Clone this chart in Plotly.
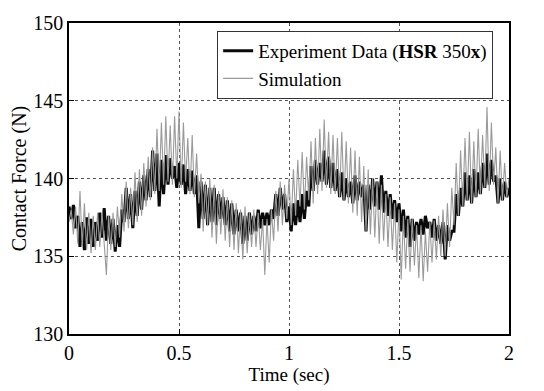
import plotly.graph_objects as go

time_s = [round(i * 0.01, 2) for i in range(201)]

experiment = [
    138.2, 137.4, 138.3, 136.8, 137.6,
    135.6, 137.2, 135.4, 137.5, 135.8,
    137.4, 135.6, 137.2, 136.0, 137.8,
    136.2, 138.1, 136.0, 137.6, 135.8,
    137.4, 135.3, 137.0, 135.6, 138.0,
    137.2, 139.4, 137.4, 139.0, 136.8,
    139.2, 137.6, 139.8, 138.0, 140.2,
    138.6, 140.6, 138.8, 141.8, 139.2,
    141.6, 138.2, 141.2, 139.0, 141.5,
    139.6, 141.3, 140.0, 140.8, 139.4,
    141.0, 139.6, 140.9, 139.0, 140.6,
    139.2, 140.5, 139.0, 140.2, 136.8,
    139.8, 137.4, 139.6, 137.0, 139.4,
    137.2, 139.4, 137.0, 139.0, 137.4,
    138.8, 137.0, 138.6, 136.6, 138.4,
    136.4, 138.0, 136.6, 137.8, 135.8,
    137.6, 136.0, 137.8, 136.4, 137.6,
    136.6, 138.0, 136.8, 137.8, 137.0,
    137.8, 137.0, 138.0, 137.4, 139.0,
    137.6, 139.4, 138.0, 139.0, 137.2,
    138.2, 136.6, 138.4, 137.0, 138.6,
    137.2, 139.0, 137.4, 139.2, 138.2,
    140.8, 139.2, 141.2, 139.6, 141.0,
    139.8, 141.8, 139.6, 141.4, 139.4,
    141.0, 139.2, 140.6, 138.8, 140.4,
    138.6, 140.0, 138.8, 139.8, 138.4,
    140.2, 138.6, 139.8, 138.8, 139.6,
    136.6, 139.6, 138.0, 140.0, 138.2,
    139.8, 138.0, 140.2, 137.8, 139.2,
    137.6, 139.0, 137.4, 138.6, 137.2,
    138.4, 136.6, 138.0, 136.2, 137.6,
    135.6, 137.4, 136.0, 137.2, 136.4,
    137.4, 136.4, 137.6, 136.8, 137.2,
    136.2, 137.4, 136.0, 137.0, 135.8,
    137.2, 134.8, 137.0, 136.0, 136.6,
    136.6, 139.0, 137.6, 139.4, 138.2,
    140.4, 138.6, 140.2, 138.4, 140.6,
    138.8, 140.4, 139.0, 141.0, 139.4,
    141.6, 139.6, 141.2, 139.8, 140.2,
    138.4, 140.0, 138.6, 139.8, 138.8,
    139.4,
]

simulation = [
    137.2, 138.0, 136.4, 138.2, 135.8,
    139.2, 135.6, 138.4, 135.4, 137.8,
    135.2, 137.6, 135.4, 137.8, 135.6,
    137.8, 135.8, 133.8, 137.6, 135.4,
    137.8, 135.6, 138.2, 136.2, 139.0,
    136.6, 139.8, 136.8, 139.4, 137.0,
    140.4, 137.2, 140.6, 137.6, 141.0,
    138.2, 141.4, 138.6, 142.0, 139.0,
    143.2, 139.2, 143.6, 139.6, 144.0,
    139.8, 143.4, 139.6, 144.0, 140.0,
    144.3, 139.4, 143.6, 139.8, 142.6,
    139.0, 142.8, 138.8, 141.6, 138.4,
    140.3, 136.6, 139.8, 137.0, 140.0,
    136.2, 139.6, 135.8, 139.2, 136.4,
    139.3, 136.0, 138.8, 135.6, 138.6,
    135.4, 138.4, 135.2, 138.0, 134.8,
    138.2, 135.2, 137.8, 135.6, 138.0,
    135.6, 137.8, 135.4, 137.4, 133.8,
    137.4, 134.6, 138.0, 136.0, 139.2,
    136.6, 139.8, 137.0, 139.6, 137.4,
    140.0, 137.0, 140.6, 137.6, 141.2,
    138.2, 141.7, 138.0, 141.4, 138.6,
    142.4, 138.4, 142.6, 139.0, 143.2,
    139.2, 143.8, 139.4, 143.0, 139.0,
    142.8, 139.0, 142.6, 138.8, 143.0,
    138.6, 142.4, 138.4, 142.0, 137.8,
    141.8, 137.6, 141.4, 137.2, 140.8,
    136.6, 140.6, 136.4, 140.0, 136.2,
    139.8, 135.8, 139.6, 136.0, 139.0,
    135.6, 138.8, 135.4, 138.4, 134.6,
    138.0, 133.5, 137.6, 134.2, 137.4,
    134.0, 137.4, 134.4, 137.0, 133.6,
    137.0, 133.4, 136.6, 134.0, 137.2,
    134.6, 137.3, 134.8, 137.6, 135.0,
    138.0, 135.0, 138.4, 135.6, 139.4,
    137.0, 141.0, 137.6, 141.8, 138.2,
    142.6, 138.6, 143.0, 138.4, 142.4,
    138.8, 143.2, 139.0, 142.8, 139.4,
    144.6, 139.2, 143.6, 139.6, 142.0,
    138.4, 141.8, 138.6, 141.0, 138.8,
    140.0,
]

x_ticks = [0, 0.5, 1, 1.5, 2]
x_tick_labels = ["0", "0.5", "1", "1.5", "2"]
y_ticks = [130, 135, 140, 145, 150]
y_tick_labels = ["130", "135", "140", "145", "150"]

font_family = "Liberation Serif"

fig = go.Figure()
fig.add_trace(go.Scatter(
    x=time_s, y=experiment, mode="lines", name="Experiment Data (<b>HSR</b> 350<b>x</b>)",
    line=dict(color="#0a0a0a", width=3),
))
fig.add_trace(go.Scatter(
    x=time_s, y=simulation, mode="lines", name="Simulation",
    line=dict(color="#9a9a9a", width=1.1),
))

axis_common = dict(
    showline=True, linecolor="black", linewidth=1.5, mirror=True,
    ticks="inside", ticklen=5, tickcolor="black",
    showgrid=True, gridcolor="#555555", gridwidth=1, griddash="dot",
    zeroline=False,
    tickfont=dict(family=font_family, size=20, color="black"),
)

fig.update_layout(
    width=544, height=391,
    margin=dict(l=69, r=35, t=12, b=48),
    paper_bgcolor="white", plot_bgcolor="white",
    font=dict(family=font_family, color="black"),
    showlegend=True,
    legend=dict(
        x=0.964, y=0.975, xanchor="right", yanchor="top",
        bgcolor="white", bordercolor="#333333", borderwidth=1,
        font=dict(family=font_family, size=19, color="black"),
        tracegroupgap=0, itemwidth=30,
    ),
    xaxis=dict(
        range=[0, 2], tickvals=x_ticks, ticktext=x_tick_labels,
        title=dict(text="Time (sec)", font=dict(family=font_family, size=19), standoff=2),
        **axis_common,
    ),
    yaxis=dict(
        range=[130, 150], tickvals=y_ticks, ticktext=y_tick_labels,
        title=dict(text="Contact Force (N)", font=dict(family=font_family, size=20), standoff=1),
        **axis_common,
    ),
)

fig.write_html("out.html")
